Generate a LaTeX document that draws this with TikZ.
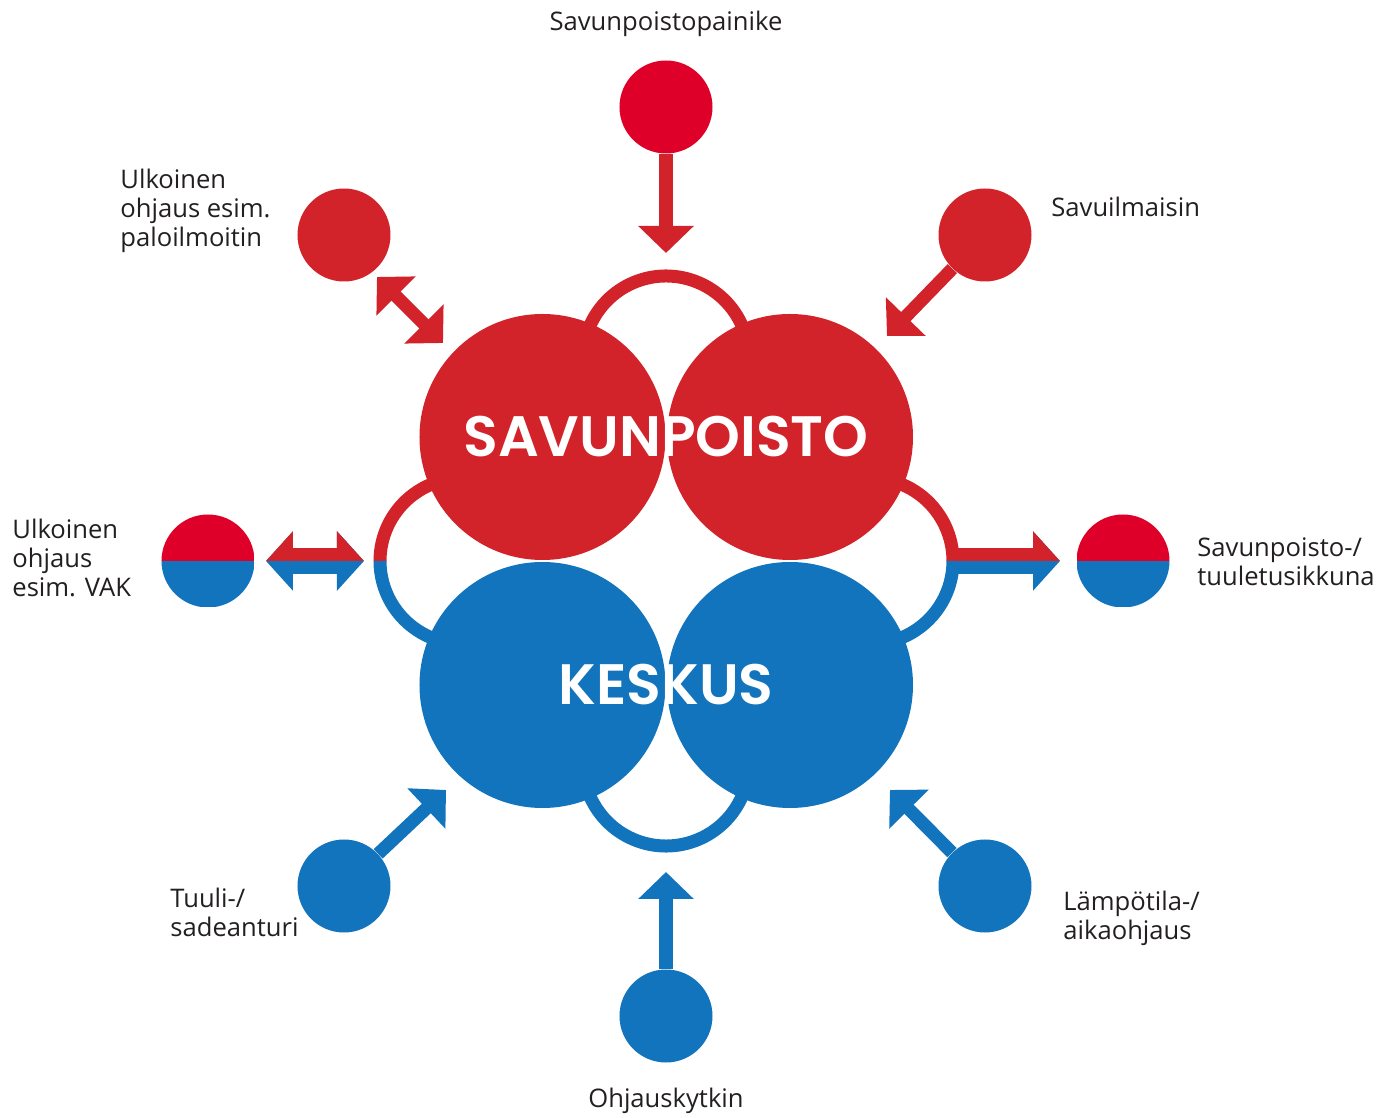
\documentclass[tikz,border=0pt]{standalone}
\usepackage{fontspec}
\setmainfont{Open Sans}
\newfontfamily\bigfont{Poppins SemiBold}
\usetikzlibrary{arrows.meta}
\definecolor{savred}{HTML}{D2232A}
\definecolor{btnred}{HTML}{DE0029}
\definecolor{kesblue}{HTML}{1174BC}
\definecolor{txtgray}{HTML}{231F20}
\def\tip{Triangle[width=27pt,length=13.5pt]}
\def\widetip{Triangle[width=29pt,length=13.5pt]}

\begin{document}
\begin{tikzpicture}[x=0.5pt, y=0.5pt,
    big/.style={circle, inner sep=0pt, minimum size=123pt},
    small/.style={circle, inner sep=0pt, minimum size=46.5pt},
    halfc/.style={small, path picture={
        \fill[btnred] (path picture bounding box.west) rectangle (path picture bounding box.north east);
        \fill[kesblue] (path picture bounding box.west) rectangle (path picture bounding box.south east);}},
    ring/.style={line width=6.5pt},
    arr/.style={line width=6.5pt, -{\tip}},
    darr/.style={line width=6.5pt, {\tip}-{\tip}},
    warr/.style={line width=13pt, -{\widetip}},
    wdarr/.style={line width=13pt, {\widetip}-{\widetip}},
    lbl/.style={text=txtgray, inner sep=0pt, align=left, font={\fontsize{12.8}{14.5}\selectfont}},
    title/.style={text=white, inner sep=0pt, font={\bigfont\fontsize{28.5}{30}\selectfont}}]
  \useasboundingbox (-666,-557) rectangle (726,561);

  % rings behind the four circles
  \draw[ring, savred] (0,202) ++(200:83) arc[start angle=200, end angle=-20, radius=83];
  \draw[ring, savred] (-203,0) ++(70:83) arc[start angle=70, end angle=180, radius=83];
  \draw[ring, kesblue] (-203,0) ++(180:83) arc[start angle=180, end angle=290, radius=83];
  \draw[ring, savred] (204,0) ++(110:83) arc[start angle=110, end angle=0, radius=83];
  \draw[ring, kesblue] (204,0) ++(0:83) arc[start angle=0, end angle=-110, radius=83];
  \draw[ring, kesblue] (0,-202) ++(160:83) arc[start angle=160, end angle=380, radius=83];

  \node[big, fill=savred] (sa) at (-123.5,124) {};
  \node[big, fill=savred] (sb) at (124,124) {};
  \node[big, fill=kesblue] (ka) at (-123.5,-124) {};
  \node[big, fill=kesblue] (kb) at (124,-124) {};
  \node[title] (savtxt) at (0,124) {SAVUNPOISTO};
  \node[title] (kestxt) at (0,-124) {KESKUS};

  \coordinate (tbtn) at (0,308);
  \coordinate (tulk1) at (-289,284);
  \coordinate (tulk2) at (-223,218);
  \coordinate (tsavi) at (221,225);
  \coordinate (tvak1) at (-400,0);
  \coordinate (tvak2) at (-302,0);
  \coordinate (rtail) at (287,0);
  \coordinate (tikk) at (394,0);
  \coordinate (ttuu) at (-220,-229);
  \coordinate (tlam) at (224,-229);
  \coordinate (tohj) at (0,-311);

  \node[small, fill=btnred] (btn) at (0,454) {};
  \node[small, fill=savred] (ulk) at (-322,326) {};
  \node[small, fill=savred] (savi) at (319,326) {};
  \node[halfc] (vak) at (-458,0) {};
  \node[halfc] (ikk) at (457,0) {};
  \node[small, fill=kesblue] (tuu) at (-322,-325) {};
  \node[small, fill=kesblue] (lam) at (319,-325) {};
  \node[small, fill=kesblue] (ohj) at (0,-455) {};

  \draw[arr, savred] (btn) -- (tbtn);
  \draw[darr, savred] (tulk1) -- (tulk2);
  \draw[arr, savred] (savi) -- (tsavi);
  \draw[wdarr, kesblue] (tvak1) -- (tvak2);
  \begin{scope}
    \clip (-420,0) rectangle (-280,40);
    \draw[wdarr, savred] (tvak1) -- (tvak2);
  \end{scope}
  \draw[warr, kesblue] (rtail) -- (tikk);
  \begin{scope}
    \clip (280,0) rectangle (410,40);
    \draw[warr, savred] (rtail) -- (tikk);
  \end{scope}
  \draw[arr, kesblue] (tuu) -- (ttuu);
  \draw[arr, kesblue] (lam) -- (tlam);
  \draw[arr, kesblue] (ohj) -- (tohj);

  \node[lbl] (lbtn) at (0,537) {Savunpoistopainike};
  \node[lbl, anchor=west] (lulk) at (-546,350) {Ulkoinen\\ohjaus esim.\\paloilmoitin};
  \node[lbl, anchor=west] (lsavi) at (385,354) {Savuilmaisin};
  \node[lbl, anchor=west] (lvak) at (-654,3) {Ulkoinen\\ohjaus\\esim. VAK};
  \node[lbl, anchor=west] (likk) at (531,-1) {Savunpoisto-/\\tuuletusikkuna};
  \node[lbl, anchor=west] (ltuu) at (-496,-351) {Tuuli-/\\sadeanturi};
  \node[lbl, anchor=west] (llam) at (397,-357) {Lämpötila-/\\aikaohjaus};
  \node[lbl] (lohj) at (0,-540) {Ohjauskytkin};
\end{tikzpicture}
\end{document}
